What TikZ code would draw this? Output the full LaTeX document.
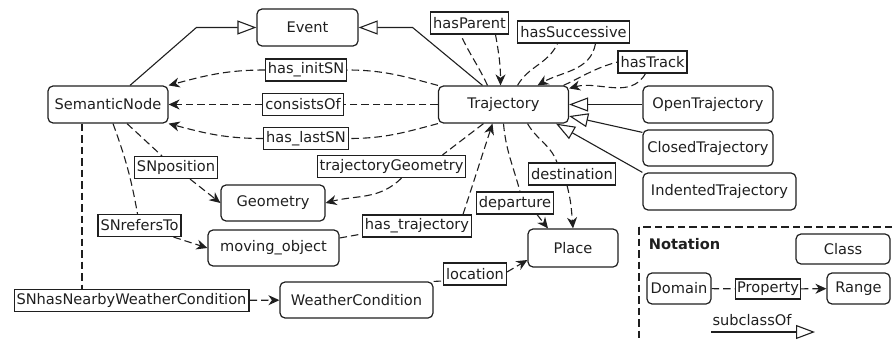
\documentclass[tikz,border=0pt]{standalone}
\usepackage{fontspec}
\setmainfont{DejaVu Sans}
\usepackage{tikz}
\usetikzlibrary{positioning,arrows.meta}

\begin{document}
\begin{tikzpicture}[x=1pt, y=-1pt, line width=1.1pt, color=black!88,
                    font=\fontsize{14.6}{17}\selectfont,
                    >={Stealth[length=11pt,width=10pt,inset=3.5pt]},
                    class node/.style={rectangle,rounded corners=5pt,draw,line width=1.2pt,minimum height=37pt,inner sep=3pt},
                    prop node/.style={rectangle,draw,line width=1.1pt,fill=white,minimum height=22pt,inner sep=2.5pt},
                    prop/.style={dash pattern=on 7.5pt off 4pt},
                    sub/.style={-{Triangle[open,length=19pt,width=14pt]}}]

  \useasboundingbox (0,0) rectangle (893,342);

  \node[class node,minimum width=101pt] (event) at (307.5,27.5) {Event};
  \node[class node,minimum width=120pt] (sn) at (108,104.5) {SemanticNode};
  \node[class node,minimum width=130pt] (traj) at (503.5,104.5) {Trajectory};
  \node[class node,minimum width=130pt] (open) at (708,104.5) {OpenTrajectory};
  \node[class node,minimum width=130pt,minimum height=36pt] (closed) at (708,148) {ClosedTrajectory};
  \node[class node,minimum width=153pt] (indent) at (719.5,191.5) {IndentedTrajectory};
  \node[class node,minimum width=104pt,minimum height=36pt] (geom) at (273,203) {Geometry};
  \node[class node,minimum width=131pt,minimum height=36pt] (mobj) at (273.5,248) {moving\_object};
  \node[class node,minimum width=153pt,minimum height=36pt] (weather) at (356.5,300) {WeatherCondition};
  \node[class node,minimum width=90pt,minimum height=38pt] (place) at (573,248) {Place};

  \node[prop node] (initsn) at (306,70) {has\_initSN};
  \node[prop node] (consists) at (303,104.5) {consistsOf};
  \node[prop node] (lastsn) at (306,138.5) {has\_lastSN};
  \node[prop node] (parent) at (469.5,23) {hasParent};
  \node[prop node] (successive) at (573.5,32) {hasSuccessive};
  \node[prop node] (track) at (652.5,62) {hasTrack};
  \node[prop node] (snpos) at (176,167.5) {SNposition};
  \node[prop node] (trajgeom) at (391.5,166.5) {trajectoryGeometry};
  \node[prop node] (snref) at (139.5,225.5) {SNrefersTo};
  \node[prop node] (hastraj) at (417,226) {has\_trajectory};
  \node[prop node] (destination) at (572,174) {destination};
  \node[prop node] (departure) at (515,203) {departure};
  \node[prop node] (location) at (475,274) {location};
  \node[prop node] (nearby) at (131.5,300.5) {SNhasNearbyWeatherCondition};

  \draw[sub] ([xshift=22pt]sn.north) -- ([xshift=-60pt]event.west) -- (event.west);
  \draw[sub] ([xshift=-21pt]traj.north) -- ([xshift=54pt]event.east) -- (event.east);
  \draw[sub] (open) -- (traj);
  \draw[sub] ([yshift=-3pt]closed.north west) -- (traj.-10);
  \draw[sub] (indent.north west) -- (traj.-20);

  \path[prop]
    (traj) edge (consists)
    (consists) edge[->] (sn)
    (traj.north west) edge[out=165,in=0] (initsn)
    (initsn) edge[->,out=180,in=15] (sn.north east)
    (traj.south west) edge[out=195,in=0] (lastsn)
    (lastsn) edge[->,out=180,in=-15] (sn.south east)
    ([xshift=-16pt]traj.north) edge[out=115,in=-65] ([xshift=-9pt]parent.south)
    ([xshift=26pt]parent.south) edge[->,out=-80,in=90] ([xshift=-3pt]traj.north)
    ([xshift=14pt]traj.north) edge[out=60,in=-115] ([xshift=-16pt]successive.south)
    ([xshift=22pt]successive.south) edge[->,out=-100,in=30] ([xshift=34pt]traj.north)
    ([xshift=60pt]traj.north) edge[out=25,in=195] (track.west)
    ([xshift=-7pt]track.south) edge[->,out=-120,in=15] ([yshift=-3pt]traj.north east)
    ([xshift=-20pt]traj.south) edge ([xshift=51pt]trajgeom.north)
    ([xshift=10pt]trajgeom.south) edge[->,out=-135,in=15] (geom.east)
    ([xshift=19pt]sn.south) edge ([xshift=-14pt]snpos.north)
    ([xshift=14pt]snpos.south) edge[->] (geom.west)
    ([xshift=5pt]sn.south) edge[out=-70,in=100] ([xshift=-2pt]snref.north)
    ([xshift=34pt]snref.south) edge[->] (mobj.west)
    ([xshift=-26pt]sn.south) edge ([xshift=-26pt]sn.south |- nearby.north)
    (nearby) edge[->] (weather)
    ([yshift=10pt]mobj.east) edge ([yshift=-8pt]hastraj.west)
    ([xshift=46pt]hastraj.north) edge[->] ([xshift=-11pt]traj.south)
    (traj.south) edge[out=-85,in=105] ([xshift=5pt]departure.north)
    ([xshift=22pt]departure.south) edge[->] ([xshift=-25pt]place.north)
    ([xshift=24pt]traj.south) edge[out=-60,in=110] ([xshift=-15pt]destination.north)
    ([xshift=-5pt]destination.south) edge[->,out=-75,in=95] (place.north)
    (weather.north east) edge ([yshift=-7pt]location.west)
    ([yshift=2pt]location.east) edge[->] ([yshift=-12pt]place.west)
;

  \draw[prop] (639,227) rectangle (905,352);
  \node[anchor=west,font=\fontsize{14.6}{17}\selectfont\bfseries] (notation) at (645,244) {Notation};
  \node[class node,minimum width=94pt,minimum height=30pt] (class) at (843,249) {Class};
  \node[class node,minimum width=64pt,minimum height=31pt,inner sep=2pt] (domain) at (679,288.5) {Domain};
  \node[prop node,minimum height=20pt,inner sep=1.5pt] (property) at (768,289) {Property};
  \node[class node,minimum width=63pt,minimum height=31pt] (range) at (858.5,288.5) {Range};
  \node (subof) at (752,320) {subclassOf};
  \coordinate (sub start) at (711,332);
  \coordinate (sub end) at (815,332);

  \path[prop]
    (domain) edge (property)
    (property) edge[->] (range);
  \draw[sub] (sub start) -- (sub end);
\end{tikzpicture}
\end{document}
